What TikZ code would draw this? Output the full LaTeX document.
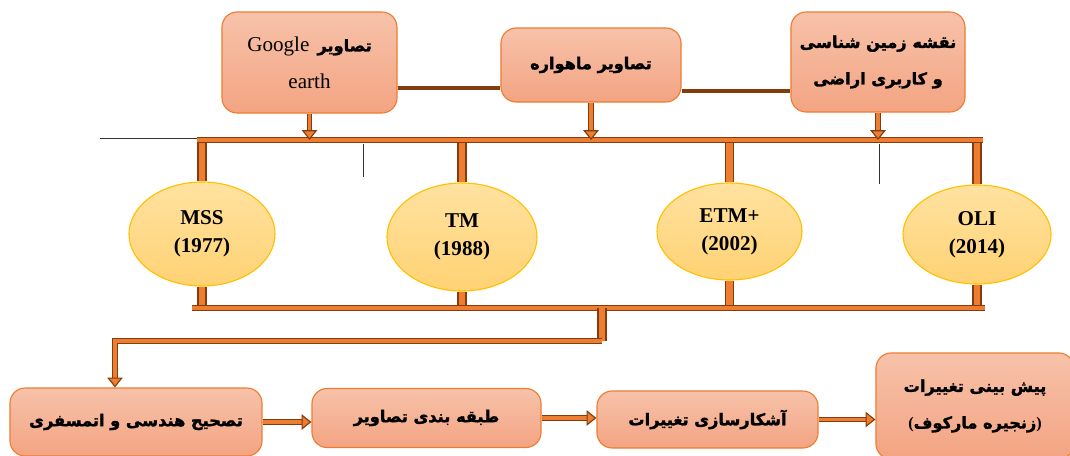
\documentclass[tikz,border=0pt]{standalone}
\usepackage{fontspec}
\setmainfont{Liberation Serif}
\newfontfamily\arabicfont[Script=Arabic,BoldFeatures={FakeBold=1.8}]{DejaVu Sans}
\TeXXeTstate=1
\usepackage{tikz}
\usetikzlibrary{arrows.meta,shapes.geometric,calc}
\definecolor{box_top}{RGB}{247,194,170}
\definecolor{box_bot}{RGB}{243,164,130}
\definecolor{box_line}{RGB}{237,125,49}
\definecolor{ell_top}{RGB}{255,226,160}
\definecolor{ell_bot}{RGB}{255,210,116}
\definecolor{ell_line}{RGB}{255,192,0}
\definecolor{pipe_org}{RGB}{237,125,49}
\definecolor{pipe_brn}{RGB}{133,60,12}
\newcommand{\fatext}[1]{{\arabicfont\bfseries\beginR #1\endR}}
\tikzstyle{bx}=[rectangle,rounded corners=0.38cm,top color=box_top,bottom color=box_bot,
  draw=box_line,line width=0.8pt,align=center,font=\fontsize{11.5}{26}\selectfont]
\tikzstyle{el}=[ellipse,top color=ell_top,bottom color=ell_bot,draw=ell_line,
  line width=0.8pt,align=center,font=\bfseries\fontsize{15}{20}\selectfont]
\tikzstyle{link}=[draw=pipe_brn,line width=3.5pt]
\tikzstyle{bus}=[draw=pipe_brn,line width=0.8pt,double=pipe_org,double distance=2.4pt]
\tikzstyle{stub}=[draw=pipe_brn,line width=1pt,double=pipe_org,double distance=4.5pt]
\tikzstyle{arr}=[style=bus,-{Triangle[length=7pt,width=11pt,fill=pipe_org]}]
\tikzstyle{thin}=[draw=black!80,line width=0.6pt]
\tikzstyle{none}=[]

\begin{document}
\begin{tikzpicture}[x=0.025cm,y=-0.025cm]
            \useasboundingbox (0,0) rectangle (1070,455);
            % sources
            \node [style=bx,minimum width=4.375cm,minimum height=2.525cm] (0) at (309.5, 62.5)
              {{\fontsize{15}{24}\selectfont Google}\ \ \fatext{تصاویر}\\{\fontsize{15}{24}\selectfont earth}};
            \node [style=bx,minimum width=4.5cm,minimum height=1.85cm] (1) at (591, 65) {\fatext{تصاویر ماهواره}};
            \node [style=bx,minimum width=4.35cm,minimum height=2.5cm] (2) at (878, 62)
              {\fatext{نقشه زمین شناسی}\\\fatext{و کاربری اراضی}};
            % sensors
            \node [style=el,minimum width=3.65cm,minimum height=2.6cm] (3) at (202, 234) {MSS\\(1977)};
            \node [style=el,minimum width=3.75cm,minimum height=2.7cm] (4) at (462, 237) {TM\\(1988)};
            \node [style=el,minimum width=3.625cm,minimum height=2.425cm] (5) at (729.5, 231.5) {ETM+\\(2002)};
            \node [style=el,minimum width=3.7cm,minimum height=2.475cm] (6) at (977, 234.5) {OLI\\(2014)};
            % steps
            \node [style=bx,minimum width=6.3cm,minimum height=1.7cm] (7) at (136, 422) {\fatext{تصحیح هندسی و اتمسفری}};
            \node [style=bx,minimum width=5.725cm,minimum height=1.475cm] (8) at (426.5, 418) {\fatext{طبقه بندی تصاویر}};
            \node [style=bx,minimum width=5.525cm,minimum height=1.425cm] (9) at (707.5, 419.5) {\fatext{آشکارسازی تغییرات}};
            \node [style=bx,minimum width=4.95cm,minimum height=2.65cm] (10) at (975, 406)
              {\fatext{پیش بینی تغییرات}\\\textbf{(}\fatext{زنجیره مارکوف}\textbf{)}};
            % coordinates
            \coordinate (11) at (197, 140);
            \coordinate (12) at (983, 140);
            \coordinate (13) at (192, 308);
            \coordinate (14) at (985, 308);
            \coordinate (15) at (602, 308);
            \coordinate (16) at (602, 341);
            \coordinate (17) at (115, 341);
            \coordinate (18) at (100, 138);
            \coordinate (19) at (0, 88);
            \coordinate (20) at (0, 91);
            \coordinate (21) at (363, 144);
            \coordinate (22) at (363, 177);
            \coordinate (23) at (879, 144);
            \coordinate (24) at (879, 184);
            \draw [style=link] (0.east |- 19) to (1.west |- 19);
            \draw [style=link] (1.east |- 20) to (2.west |- 20);
            \draw [style=thin] (18) to (18 -| 11);
            \draw [style=thin] (21) to (22);
            \draw [style=thin] (23) to (24);
            \draw [style=stub] (3.north) to (3.north |- 11);
            \draw [style=stub] (4.north) to (4.north |- 11);
            \draw [style=stub] (5.north) to (5.north |- 11);
            \draw [style=stub] (6.north) to (6.north |- 11);
            \draw [style=stub] (3.south) to (3.south |- 13);
            \draw [style=stub] (4.south) to (4.south |- 13);
            \draw [style=stub] (5.south) to (5.south |- 13);
            \draw [style=stub] (6.south) to (6.south |- 13);
            \draw [style=bus] (11) to (12);
            \draw [style=bus] (13) to (14);
            \draw [style=arr] (0.south) to (0.south |- 11);
            \draw [style=arr] (1.south) to (1.south |- 11);
            \draw [style=arr] (2.south) to (2.south |- 11);
            \draw [style=stub] (15) to (16);
            \draw [style=arr] (16) -- (17) -- (17 |- 7.north);
            \draw [style=arr] (7.east) to (7.east -| 8.west);
            \draw [style=arr] (8.east) to (8.east -| 9.west);
            \draw [style=arr] (9.east) to (9.east -| 10.west);
    \end{tikzpicture}
\end{document}
